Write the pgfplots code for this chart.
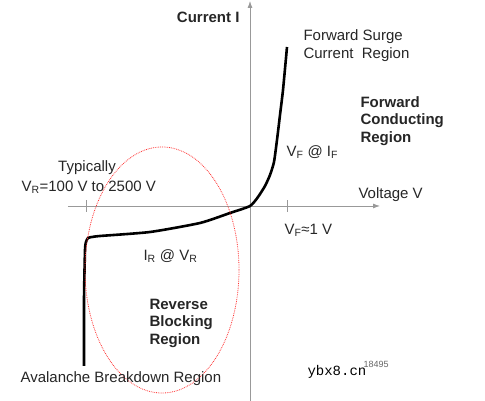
\documentclass[border=0pt]{standalone}
\usepackage{pgfplots}
\usepackage{fontspec}
\setmainfont{Liberation Sans}
\setmonofont{Liberation Mono}
\pgfplotsset{compat=1.18}
\usetikzlibrary{arrows.meta}

\tikzset{
  lbl/.style={font=\fontsize{15}{18}\selectfont, text=black!85, anchor=west},
  blbl/.style={font=\bfseries\fontsize{15}{18}\selectfont, text=black!85, anchor=west},
}

\begin{document}
\begin{tikzpicture}
\begin{axis}[
x=1pt, y=1pt,
xmin=-182, xmax=130,
ymin=-195, ymax=205,
axis lines=middle,
axis line style={draw=black!40, line width=0.8pt},
x axis line style={-{Latex[length=7pt,width=5pt]}},
y axis line style={-{Latex[length=7pt,width=5pt]}},
xtick={-164,37}, xticklabels={},
ytick=\empty,
tick align=center,
major tick length=12pt,
tick style={black!40, line width=0.8pt},
clip=false,
]
% diode I-V curve (pixel-read points, origin at axis crossing)
\addplot[black, line width=2.6pt, smooth, tension=0.35] coordinates {
(-166,-160) (-166,-94) (-165,-44) (-164,-36) (-162,-32) (-158,-31)
(-150,-30) (-100,-26) (-50,-17) (-20,-7) (0,0)
(8,9) (15,20) (20,31) (24,44) (27,66) (30,91) (33,116) (37,159)
};
\draw[red!80, densely dotted, line width=0.8pt] (axis cs:-88,-64) ellipse [x radius=77pt, y radius=123pt];

\node[blbl, anchor=east] at (axis cs:-7,189) {Current I};
\node[lbl] at (axis cs:50,169) {Forward Surge};
\node[lbl] at (axis cs:50,151) {Current\ \ Region};
\node[blbl] at (axis cs:107,104) {Forward};
\node[blbl] at (axis cs:107,85) {Conducting};
\node[blbl] at (axis cs:107,67) {Region};
\node[lbl] at (axis cs:33,54) {V\textsubscript{F} @ I\textsubscript{F}};
\node[lbl, anchor=center] at (axis cs:-163,38) {Typically};
\node[lbl] at (axis cs:-232,19) {V\textsubscript{R}=100 V to 2500 V};
\node[lbl] at (axis cs:105,11) {Voltage V};
\node[lbl] at (axis cs:31,-24) {V\textsubscript{F}≈1 V};
\node[lbl] at (axis cs:-110,-50) {I\textsubscript{R} @ V\textsubscript{R}};
\node[blbl] at (axis cs:-104,-98) {Reverse};
\node[blbl] at (axis cs:-104,-117) {Blocking};
\node[blbl] at (axis cs:-104,-135) {Region};
\node[lbl] at (axis cs:-233,-173) {Avalanche Breakdown Region};
\node[anchor=west, font=\ttfamily\fontsize{14}{16}\selectfont, text=black] at (axis cs:54,-166) {ybx8.cn};
\node[anchor=west, font=\fontsize{9}{10}\selectfont, text=black!60] at (axis cs:110,-158) {18495};

\coordinate (bl) at (axis cs:-250,-195);
\coordinate (tr) at (axis cs:235,206);
\end{axis}
\pgfresetboundingbox
\path (bl) rectangle (tr);
\end{tikzpicture}
\end{document}
